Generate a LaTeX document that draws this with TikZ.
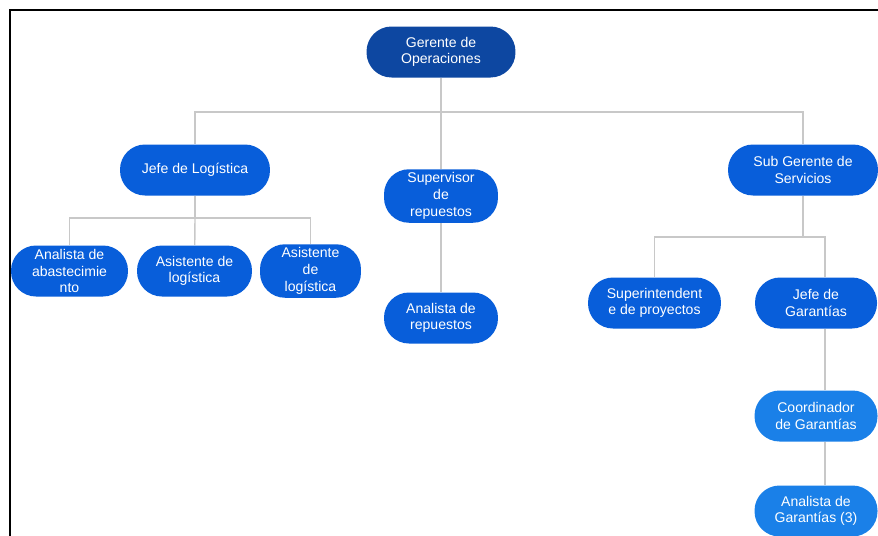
\documentclass[tikz,border=0pt]{standalone}
\usepackage{fontspec}
\setmainfont{Liberation Sans}
\usepackage{xcolor}
\usetikzlibrary{shapes,arrows,positioning}

\definecolor{topblue}{RGB}{13,71,161}
\definecolor{midblue}{RGB}{8,94,218}
\definecolor{lowblue}{RGB}{26,128,232}
\definecolor{linkgray}{RGB}{200,200,200}

\begin{document}
\begin{tikzpicture}[x=0.02cm, y=-0.02cm,
    role/.style={rectangle, rounded corners=0.5cm, minimum height=1.02cm, inner sep=2pt, font=\fontsize{8}{9.5}\selectfont, text=white, fill=midblue, align=center},
    boss/.style={role, fill=topblue},
    aide/.style={role, fill=lowblue},
    link/.style={draw=linkgray, line width=0.8pt}]

    \useasboundingbox (0,0) rectangle (878,535);
    \clip (0,0) rectangle (878,535);

    % Frame
    \draw[line width=1.2pt] (10,560) -- (10,10) -- (900,10);

    % Bus points
    \coordinate (top) at (441,112);
    \coordinate (logbus) at (195,218);
    \coordinate (srvbus) at (803,237);

    % Row 1: manager
    \node[boss, minimum width=2.98cm] (ger) at (441,52) {Gerente de\\Operaciones};

    % Row 2: heads
    \node[role, minimum width=3cm] (jlog) at (195,170) {Jefe de Log\'istica};
    \node[role, minimum width=2.28cm] (sup) at (441,196) {Supervisor\\de\\repuestos};
    \node[role, minimum width=3cm] (subg) at (803,170) {Sub Gerente de\\Servicios};

    % Row 3: logistics staff
    \node[role, minimum width=2.34cm] (anab) at (69.5,271) {Analista de\\abastecimie\\nto};
    \node[role, minimum width=2.3cm] (asis1) at (194.5,271) {Asistente de\\log\'istica};
    \node[role, minimum width=2.02cm] (asis2) at (310.5,271) {Asistente\\de\\log\'istica};

    % Row 3: parts and services
    \node[role, minimum width=2.28cm] (anrep) at (441,318) {Analista de\\repuestos};
    \node[role, minimum width=2.66cm] (supint) at (654.5,303) {Superintendent\\e de proyectos};
    \node[role, minimum width=2.44cm] (jgar) at (816,303) {Jefe de\\Garant\'ias};

    % Row 4-5: warranties
    \node[aide, minimum width=2.46cm] (cgar) at (816,416) {Coordinador\\de Garant\'ias};
    \node[aide, minimum width=2.46cm] (agar) at (816,511) {Analista de\\Garant\'ias (3)};

    % Connections
    \draw[link] (ger) -- (top);
    \draw[link] (top) -| (jlog);
    \draw[link] (top) -| (subg);
    \draw[link] (top) -- (sup);
    \draw[link] (sup) -- (anrep);
    \draw[link] (jlog) -- (logbus);
    \draw[link] (logbus) -| (anab);
    \draw[link] (logbus) -| (asis2);
    \draw[link] (logbus) -- (asis1);
    \draw[link] (subg) -- (srvbus);
    \draw[link] (srvbus) -| (supint);
    \draw[link] (srvbus) -| ([xshift=5]jgar.north) coordinate (jgarin);
    \draw[link] ([xshift=5]jgar.south) -- ([xshift=5]cgar.north);
    \draw[link] ([xshift=5]cgar.south) -- ([xshift=5]agar.north);
\end{tikzpicture}
\end{document}
